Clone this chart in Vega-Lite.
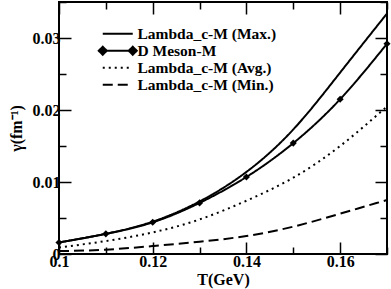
{
  "$schema": "https://vega.github.io/schema/vega-lite/v6.json",
  "width": 328,
  "height": 252,
  "autosize": "none",
  "padding": {"left": 59, "top": 2, "right": 4, "bottom": 35},
  "background": "white",
  "config": {
    "view": {"stroke": "black", "strokeWidth": 2},
    "font": "Liberation Serif",
    "axis": {"grid": false, "domain": false, "tickColor": "black", "tickWidth": 1.5, "labelColor": "black", "labelFont": "Liberation Serif", "labelFontWeight": "bold", "labelFontSize": 16, "titleFont": "Liberation Serif", "titleFontWeight": "bold", "titleFontSize": 16, "titleColor": "black", "labelOverlap": false, "labelFlush": false}
  },
  "data": {"values": [
    {"T": 0.10, "g": 0.0016, "s": "Lambda_c-M (Max.)"},
    {"T": 0.11, "g": 0.0028, "s": "Lambda_c-M (Max.)"},
    {"T": 0.12, "g": 0.0045, "s": "Lambda_c-M (Max.)"},
    {"T": 0.13, "g": 0.0073, "s": "Lambda_c-M (Max.)"},
    {"T": 0.14, "g": 0.0114, "s": "Lambda_c-M (Max.)"},
    {"T": 0.15, "g": 0.0173, "s": "Lambda_c-M (Max.)"},
    {"T": 0.16, "g": 0.0252, "s": "Lambda_c-M (Max.)"},
    {"T": 0.17, "g": 0.0334, "s": "Lambda_c-M (Max.)"},
    {"T": 0.10, "g": 0.0016, "s": "D Meson-M"},
    {"T": 0.11, "g": 0.0028, "s": "D Meson-M"},
    {"T": 0.12, "g": 0.0044, "s": "D Meson-M"},
    {"T": 0.13, "g": 0.0071, "s": "D Meson-M"},
    {"T": 0.14, "g": 0.0107, "s": "D Meson-M"},
    {"T": 0.15, "g": 0.0154, "s": "D Meson-M"},
    {"T": 0.16, "g": 0.0215, "s": "D Meson-M"},
    {"T": 0.17, "g": 0.0292, "s": "D Meson-M"},
    {"T": 0.10, "g": 0.0009, "s": "Lambda_c-M (Avg.)"},
    {"T": 0.11, "g": 0.0018, "s": "Lambda_c-M (Avg.)"},
    {"T": 0.12, "g": 0.0030, "s": "Lambda_c-M (Avg.)"},
    {"T": 0.13, "g": 0.0048, "s": "Lambda_c-M (Avg.)"},
    {"T": 0.14, "g": 0.0074, "s": "Lambda_c-M (Avg.)"},
    {"T": 0.15, "g": 0.0106, "s": "Lambda_c-M (Avg.)"},
    {"T": 0.16, "g": 0.0150, "s": "Lambda_c-M (Avg.)"},
    {"T": 0.17, "g": 0.0205, "s": "Lambda_c-M (Avg.)"},
    {"T": 0.10, "g": 0.0004, "s": "Lambda_c-M (Min.)"},
    {"T": 0.11, "g": 0.0006, "s": "Lambda_c-M (Min.)"},
    {"T": 0.12, "g": 0.0011, "s": "Lambda_c-M (Min.)"},
    {"T": 0.13, "g": 0.0017, "s": "Lambda_c-M (Min.)"},
    {"T": 0.14, "g": 0.0025, "s": "Lambda_c-M (Min.)"},
    {"T": 0.15, "g": 0.0038, "s": "Lambda_c-M (Min.)"},
    {"T": 0.16, "g": 0.0056, "s": "Lambda_c-M (Min.)"},
    {"T": 0.17, "g": 0.0075, "s": "Lambda_c-M (Min.)"}
  ]},
  "resolve": {"axis": {"x": "independent", "y": "independent"}},
  "layer": [
    {
      "mark": {"type": "line", "interpolate": "natural", "strokeWidth": 2, "color": "black", "clip": true},
      "encoding": {
        "x": {"field": "T", "type": "quantitative", "scale": {"domain": [0.1, 0.17], "nice": false, "zero": false},
          "axis": {"title": "T(GeV)", "titlePadding": -3, "labelPadding": 11, "values": [0.1, 0.11, 0.12, 0.13, 0.14, 0.15, 0.16, 0.17],
            "tickSize": {"condition": {"test": "round(datum.value*100) % 2 == 0", "value": -12}, "value": -7},
            "labelExpr": "round(datum.value*100) % 2 == 0 && datum.value < 0.169 ? format(datum.value, '~g') : ''"}},
        "y": {"field": "g", "type": "quantitative", "scale": {"domain": [0, 0.035], "nice": false},
          "axis": {"title": "γ(fm⁻¹)", "titlePadding": 8, "labelPadding": 11, "values": [0, 0.005, 0.01, 0.015, 0.02, 0.025, 0.03, 0.035],
            "tickSize": {"condition": {"test": "round(datum.value*1000) % 10 == 0", "value": -12}, "value": -7},
            "labelExpr": "round(datum.value*1000) % 10 == 0 && datum.value < 0.034 ? (datum.value == 0 ? '0' : format(datum.value, '.2f')) : ''"}},
        "strokeDash": {"field": "s", "type": "nominal",
          "scale": {"domain": ["Lambda_c-M (Max.)", "D Meson-M", "Lambda_c-M (Avg.)", "Lambda_c-M (Min.)"], "range": [[1, 0], [1, 0], [2, 4], [10, 5]]},
          "legend": {"title": null, "orient": "none", "legendX": 51, "legendY": 24, "padding": 0, "rowPadding": -1,
            "symbolSize": 100, "symbolStrokeWidth": 2, "symbolStrokeColor": "black", "labelOffset": 12,
            "labelFont": "Liberation Serif", "labelFontWeight": "bold", "labelFontSize": 15.5, "labelColor": "black",
            "encode": {"symbols": {"update": {
              "shape": {"signal": "datum.value == 'D Meson-M' ? 'M-3,0H3M-3,-0.8L-2.2,0L-3,0.8L-3.8,0ZM3,-0.8L3.8,0L3,0.8L2.2,0Z' : 'M-3,0H3'"},
              "fill": {"value": "black"}, "stroke": {"value": "black"}, "strokeWidth": {"value": 2}}}}}}
      }
    },
    {
      "transform": [{"filter": "datum.s == 'D Meson-M'"}],
      "mark": {"type": "point", "shape": "diamond", "filled": true, "size": 50, "color": "black", "opacity": 1, "clip": false},
      "encoding": {
        "x": {"field": "T", "type": "quantitative", "scale": {"domain": [0.1, 0.17], "nice": false, "zero": false},
          "axis": {"orient": "top", "title": null, "labels": false, "values": [0.1, 0.11, 0.12, 0.13, 0.14, 0.15, 0.16, 0.17],
            "tickSize": {"condition": {"test": "round(datum.value*100) % 2 == 0", "value": -12}, "value": -7}}},
        "y": {"field": "g", "type": "quantitative", "scale": {"domain": [0, 0.035], "nice": false},
          "axis": {"orient": "right", "title": null, "labels": false, "values": [0, 0.005, 0.01, 0.015, 0.02, 0.025, 0.03, 0.035],
            "tickSize": {"condition": {"test": "round(datum.value*1000) % 10 == 0", "value": -12}, "value": -7}}}
      }
    }
  ]
}
